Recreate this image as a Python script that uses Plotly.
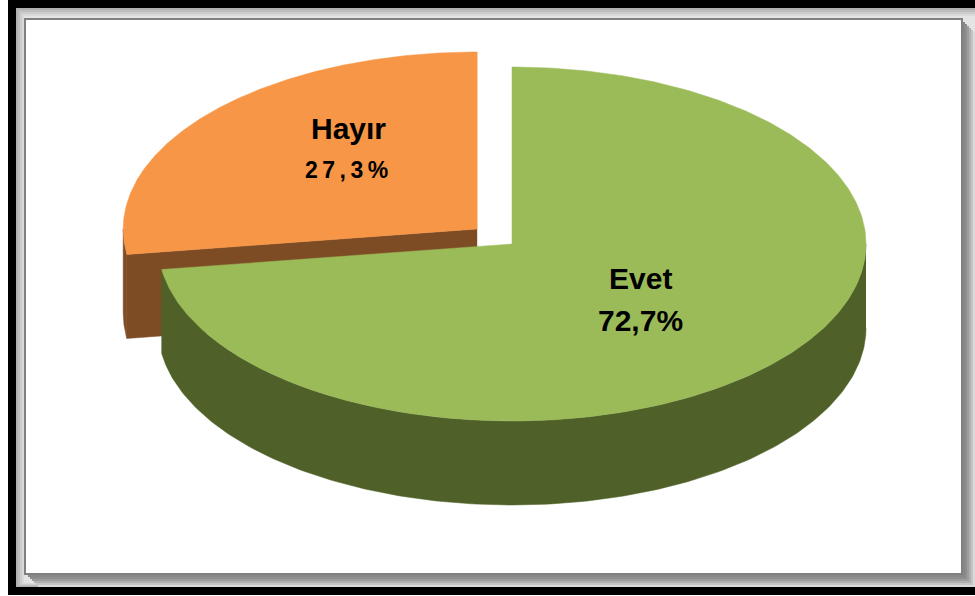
import numpy as np
import plotly.graph_objects as go

# ---- data ----
labels = ["Evet", "Hayır"]
values = [72.7, 27.3]

# ---- style ----
top_colors = ["#9BBB59", "#F79646"]
side_colors = ["#4F6129", "#7E4C24"]
explode = [0.0, 0.13]
CX, CY = 512, 244          # pie centre (screen pixel units)
RX, RY = 354, 177          # ellipse radii of the tilted top face
DEPTH = 84                 # thickness of the 3D pie
W, H = 975, 596
FONT = "Liberation Sans, Arial, sans-serif"


def rim(cx, cy, th):
    t = np.radians(th)
    return cx + RX * np.sin(t), cy - RY * np.cos(t)


total = sum(values)
slices = []
start = 0.0
for lab, v, tc, sc, ex in zip(labels, values, top_colors, side_colors, explode):
    a0, a1 = start, start + v / total * 360.0
    mid = (a0 + a1) / 2
    ox = ex * RX * np.sin(np.radians(mid))
    oy = -ex * RY * np.cos(np.radians(mid))
    slices.append(dict(label=lab, value=v, a0=a0, a1=a1, mid=mid,
                       cx=CX + ox, cy=CY + oy, top=tc, side=sc))
    start = a1

fig = go.Figure()


def poly(xs, ys, color):
    fig.add_trace(go.Scatter(x=list(xs), y=list(ys), mode="lines", fill="toself",
                             fillcolor=color, line=dict(color=color, width=0.5),
                             hoverinfo="skip", showlegend=False))


# draw back (upper) slices first, then front ones
for s in sorted(slices, key=lambda d: -np.cos(np.radians(d["mid"]))):
    cx, cy = s["cx"], s["cy"]
    # flat edge faces that face the viewer
    for ang, nrm in ((s["a0"], s["a0"] - 90), (s["a1"], s["a1"] + 90)):
        if np.cos(np.radians(nrm)) < -1e-6:
            px, py = rim(cx, cy, ang)
            poly([cx, px, px, cx], [cy, py, py + DEPTH, cy + DEPTH], s["side"])
    # curved outer side (front half only)
    lo, hi = max(s["a0"], 90), min(s["a1"], 270)
    if hi > lo:
        th = np.linspace(lo, hi, 200)
        xs, ys = rim(cx, cy, th)
        poly(np.concatenate([xs, xs[::-1]]), np.concatenate([ys, ys[::-1] + DEPTH]), s["side"])
    # top face
    th = np.linspace(s["a0"], s["a1"], 400)
    xs, ys = rim(cx, cy, th)
    poly(np.concatenate([[cx], xs, [cx]]), np.concatenate([[cy], ys, [cy]]), s["top"])

# labels
label_shift = {"Evet": (0, 0), "Hayır": (0, -24)}
name_size = {"Evet": 30, "Hayır": 30}
pct_size = {"Evet": 30, "Hayır": 23}
pct_spacing = {"Evet": 0, "Hayır": 4.5}
for s in slices:
    f = 0.48
    lx, ly = rim(s["cx"], s["cy"], s["mid"])
    lx = s["cx"] + f * (lx - s["cx"]) + label_shift[s["label"]][0]
    ly = s["cy"] + f * (ly - s["cy"]) + label_shift[s["label"]][1]
    pct = f"{s['value']:.1f}".replace(".", ",") + "%"
    fig.add_annotation(x=lx, y=ly - 21, text=f"<b>{s['label']}</b>", showarrow=False,
                       font=dict(family=FONT, size=name_size[s["label"]], color="black"))
    sp = pct_spacing[s["label"]]
    ptxt = f"<span style='letter-spacing:{sp}px'><b>{pct}</b></span>" if sp else f"<b>{pct}</b>"
    fig.add_annotation(x=lx, y=ly + 21, text=ptxt, showarrow=False,
                       font=dict(family=FONT, size=pct_size[s["label"]], color="black"))

# ---- frame decoration ----
shapes = [dict(type="rect", x0=8, y0=0, x1=W, y1=595, fillcolor="black", line_width=0)]
for i, c in enumerate(["#b0b0b0", "#bebebe", "#cccccc", "#d9d9d9", "#e4e4e4"]):
    shapes.append(dict(type="rect", x0=16 + 2 * i, y0=8 + 2 * i, x1=W, y1=587 - i,
                       fillcolor=c, line_width=0))
for k, c in [(13, "#dadada"), (11, "#c4c4c4"), (9, "#afafaf"), (7, "#9c9c9c"), (5, "#8e8e8e"), (3, "#878787")]:
    shapes.append(dict(type="rect", x0=25 + k, y0=19 + k, x1=min(962 + k, W), y1=574 + k,
                       fillcolor=c, line_width=0))
shapes.append(dict(type="rect", x0=25, y0=19, x1=962, y1=574, fillcolor="white",
                   line=dict(color="#808080", width=2)))
for sh in shapes:
    sh.update(xref="x", yref="y", layer="below")

fig.update_layout(
    width=W, height=H, margin=dict(l=0, r=0, t=0, b=0),
    paper_bgcolor="white", plot_bgcolor="rgba(0,0,0,0)",
    xaxis=dict(range=[0, W], visible=False, fixedrange=True),
    yaxis=dict(range=[H, 0], visible=False, fixedrange=True),
    shapes=shapes, showlegend=False,
)
fig.write_html("out.html", config={"displayModeBar": False},
               post_script="document.body.style.margin='0';"
                           "document.body.style.overflow='hidden';"
                           "document.documentElement.style.overflow='hidden';")
